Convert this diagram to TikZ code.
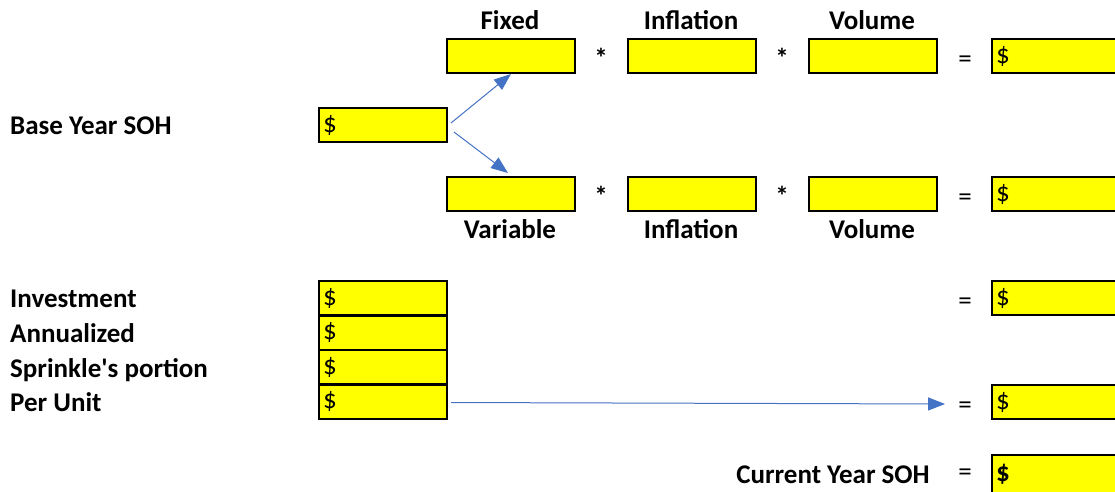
\documentclass[tikz,border=0pt]{standalone}
\usepackage{fontspec}
\setmainfont{Carlito}
% plain family without TeX quote ligatures, so ' stays straight
\newfontfamily\carlito{Carlito}
\usetikzlibrary{arrows.meta}
\definecolor{cellfill}{RGB}{255,255,0}
\definecolor{arrowblue}{RGB}{68,114,196}

\begin{document}
\begin{tikzpicture}[x=1pt,y=-1pt,
  cell/.style={draw=black, line width=2pt, fill=cellfill, anchor=north west,
    minimum height=34pt, text width=120pt, inner xsep=4pt, inner ysep=0pt,
    align=left, font=\carlito\fontsize{27}{30}\selectfont},
  widecell/.style={cell, text width=140pt},
  lbl/.style={font=\carlito\fontsize{27}{30}\selectfont\bfseries, inner sep=0pt},
  op/.style={font=\carlito\fontsize{27}{30}\selectfont, inner sep=0pt},
  times/.style={op, font=\carlito\fontsize{27}{30}\selectfont\bfseries},
  arr/.style={draw=arrowblue, line width=1pt, -{Triangle[length=17pt,width=13pt]}}
]
\useasboundingbox (0,0) rectangle (1115,491);

% fixed-cost row
\node[lbl, anchor=base] (hfixed) at (510,29) {Fixed};
\node[lbl, anchor=base] (hinfl1) at (691,29) {Inflation};
\node[lbl, anchor=base] (hvol1) at (872,29) {Volume};
\node[cell] (fixed) at (446,38) {};
\node[times] (m1) at (601,58) {*};
\node[cell] (infl1) at (627,38) {};
\node[times] (m2) at (782,58) {*};
\node[cell] (vol1) at (808,38) {};
\node[op] (eq1) at (965,62) {=};
\node[widecell] (res1) at (991,38) {\$};

% base year
\node[lbl, anchor=base west] (lbase) at (10,134) {Base Year SOH};
\node[cell] (base) at (318,107) {\$};

% variable-cost row
\node[cell] (var) at (446,176) {};
\node[times] (m3) at (601,196) {*};
\node[cell] (infl2) at (627,176) {};
\node[times] (m4) at (782,196) {*};
\node[cell] (vol2) at (808,176) {};
\node[op] (eq2) at (965,200) {=};
\node[widecell] (res2) at (991,176) {\$};
\node[lbl, anchor=base] (hvar) at (510,238) {Variable};
\node[lbl, anchor=base] (hinfl2) at (691,238) {Inflation};
\node[lbl, anchor=base] (hvol2) at (872,238) {Volume};

% investment stack
\node[lbl, anchor=base west] (linv) at (10,307) {Investment};
\node[lbl, anchor=base west] (lann) at (10,342) {Annualized};
\node[lbl, anchor=base west] (lspr) at (10,377) {Sprinkle's portion};
\node[lbl, anchor=base west] (lpu) at (10,411) {Per Unit};
\node[cell] (inv) at (318,280) {\$};
\node[cell] (ann) at (318,314.5) {\$};
\node[cell] (spr) at (318,349) {\$};
\node[cell] (pu) at (318,383.5) {\$};
\node[op] (eq3) at (965,304) {=};
\node[widecell] (res3) at (991,280) {\$};
\node[op] (eq4) at (965,408) {=};
\node[widecell] (res4) at (991,384) {\$};

% total
\node[lbl, anchor=base east] (lcur) at (930,483) {Current Year SOH};
\node[op] (eq5) at (965,475) {=};
\node[widecell, font=\carlito\fontsize{27}{30}\selectfont\bfseries,
  minimum height=0pt, inner ysep=4pt, text height=22pt, text depth=18pt] (total) at (991,454) {\$};

% connectors
\draw[arr] ([shift={(3,-2)}]base.east) -- (fixed.south);
\draw[arr] ([shift={(6,7)}]base.east) -- ([shift={(-3,-3)}]var.north);
\draw[arr] ([shift={(3,1)}]pu.east) -- ([shift={(-13,-4)}]eq4.west);
\end{tikzpicture}
\end{document}
